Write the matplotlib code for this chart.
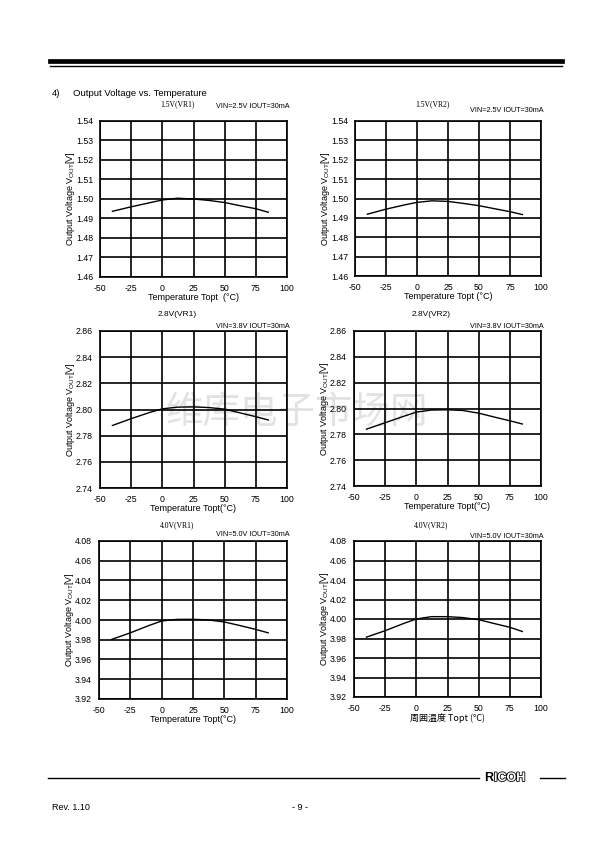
import numpy as np
import matplotlib
matplotlib.use("Agg")
import matplotlib.pyplot as plt
import matplotlib.patheffects as pe

plt.rcParams['font.family'] = ['Liberation Sans', 'Noto Sans CJK JP', 'DejaVu Sans']
plt.rcParams['mathtext.fontset'] = 'custom'
plt.rcParams['mathtext.rm'] = 'Liberation Sans'

W, H = 595, 842

# temperature points (deg C)
temp = [-40, -25, -10, 0, 12, 25, 37, 50, 62, 75, 85]

# output voltage readings per panel
v15_vr1 = [1.4937, 1.4960, 1.4981, 1.4995, 1.5004, 1.5000, 1.4993, 1.4982, 1.4966, 1.4950, 1.4932]
v15_vr2 = [1.4919, 1.4945, 1.4967, 1.4980, 1.4988, 1.4985, 1.4975, 1.4963, 1.4948, 1.4932, 1.4917]
v28_vr1 = [2.7878, 2.7930, 2.7978, 2.8005, 2.8018, 2.8020, 2.8015, 2.8003, 2.7975, 2.7945, 2.7920]
v28_vr2 = [2.7840, 2.7890, 2.7940, 2.7972, 2.7988, 2.7990, 2.7985, 2.7964, 2.7935, 2.7905, 2.7880]
v40_vr1 = [3.9803, 3.9870, 3.9945, 3.9990, 4.0006, 4.0007, 4.0001, 3.9980, 3.9945, 3.9905, 3.9870]
v40_vr2 = [3.9814, 3.9880, 3.9955, 4.0000, 4.0024, 4.0024, 4.0015, 3.9993, 3.9955, 3.9915, 3.9872]

x_ticks = [-50, -25, 0, 25, 50, 75, 100]
y_ticks_15 = [1.46, 1.47, 1.48, 1.49, 1.50, 1.51, 1.52, 1.53, 1.54]
y_ticks_28 = [2.74, 2.76, 2.78, 2.80, 2.82, 2.84, 2.86]
y_ticks_40 = [3.92, 3.94, 3.96, 3.98, 4.00, 4.02, 4.04, 4.06, 4.08]

titles = ["1.5V(VR1)", "1.5V(VR2)", "2.8V(VR1)", "2.8V(VR2)", "4.0V(VR1)", "4.0V(VR2)"]
conds = ["VIN=2.5V IOUT=30mA", "VIN=2.5V IOUT=30mA", "VIN=3.8V IOUT=30mA",
         "VIN=3.8V IOUT=30mA", "VIN=5.0V IOUT=30mA", "VIN=5.0V IOUT=30mA"]
xlabels = ["Temperature Topt  (°C)", "Temperature Topt (°C)", "Temperature Topt(°C)",
           "Temperature Topt(°C)", "Temperature Topt(°C)", "周囲温度 Topt (°C)"]


def fx(x):
    return x / W


def fy(y):
    return 1 - y / H


fig = plt.figure(figsize=(W / 100, H / 100), dpi=100)

# page header
fig.add_artist(plt.Line2D([fx(50), fx(562)], [fy(61), fy(61)], color='black', lw=3.4))
fig.add_artist(plt.Line2D([fx(50), fx(562)], [fy(66), fy(66)], color='black', lw=1.0))
fig.text(fx(52), fy(94), "4)", fontsize=6.8, va='center')
fig.text(fx(73), fy(94), "Output Voltage vs. Temperature", fontsize=6.8, va='center')

# watermark (behind everything)
fig.text(fx(297), fy(413), "维库电子市场网", fontsize=27, color='#e2e2e2',
         family=['Noto Sans CJK SC'], ha='center', va='center', zorder=-5)

# panels: (left, top, right, bottom) in pixels
boxes = [(100, 121, 287, 277), (355, 121, 541, 276),
         (100, 331, 287, 488), (354, 331, 541, 486),
         (99, 541, 287, 699), (354, 541, 541, 697)]
series = [v15_vr1, v15_vr2, v28_vr1, v28_vr2, v40_vr1, v40_vr2]
yticks = [y_ticks_15, y_ticks_15, y_ticks_28, y_ticks_28, y_ticks_40, y_ticks_40]
title_y = [104, 104, 315, 315, 525, 525]
cond_y = [107, 111, 326, 326, 534, 536]
serif_title = [True, True, False, False, True, True]

for i in range(6):
    l, t, r, b = boxes[i]
    ax = fig.add_axes([fx(l), fy(b), (r - l) / W, (b - t) / H])
    ax.patch.set_alpha(0)
    yt = yticks[i]
    ax.set_xlim(-50, 100)
    ax.set_ylim(yt[0], yt[-1])
    ax.set_xticks(x_ticks)
    ax.set_yticks(yt)
    ax.set_xticklabels([str(v) for v in x_ticks])
    ax.set_yticklabels(["%.2f" % v for v in yt])
    ax.tick_params(length=0, labelsize=6.3, pad=5)
    ax.grid(True, color='black', lw=1.2)
    for s in ax.spines.values():
        s.set_linewidth(1.2)
    ax.plot(temp, series[i], color='black', lw=1.0)

    ax.set_ylabel(r"Output Voltage V$_{\mathrm{OUT}}$[V]", fontsize=6.5, labelpad=-1)
    if i == 5:
        ax.set_xlabel(xlabels[i], fontsize=6.5, labelpad=0,
                      family=['Noto Sans CJK JP', 'Liberation Sans'])
    else:
        ax.set_xlabel(xlabels[i], fontsize=6.5, labelpad=0)

    cx = (l + r) / 2 - 16
    if serif_title[i]:
        fig.text(fx(cx), fy(title_y[i]), titles[i], fontsize=5.5,
                 family='Liberation Serif', ha='center', va='center')
    else:
        fig.text(fx(cx), fy(title_y[i]), titles[i], fontsize=6,
                 ha='center', va='center')
    fig.text(fx(r + 3), fy(cond_y[i]), conds[i], fontsize=5.2,
             ha='right', va='center')

# footer
fig.add_artist(plt.Line2D([fx(48), fx(479)], [fy(778), fy(778)], color='black', lw=1.0))
fig.add_artist(plt.Line2D([fx(540), fx(565)], [fy(778), fy(778)], color='black', lw=1.0))
fig.text(fx(484), fy(778), "R", fontsize=9, weight='bold', va='center', ha='left')
fig.text(fx(494), fy(778), "ICOH", fontsize=9, weight='bold', va='center', ha='left',
         color='white', path_effects=[pe.withStroke(linewidth=1.2, foreground='black')])
fig.text(fx(52), fy(808), "Rev. 1.10", fontsize=6.5, va='center')
fig.text(fx(300), fy(808), "- 9 -", fontsize=6.5, va='center', ha='center')

fig.savefig("out.png", dpi=100)
